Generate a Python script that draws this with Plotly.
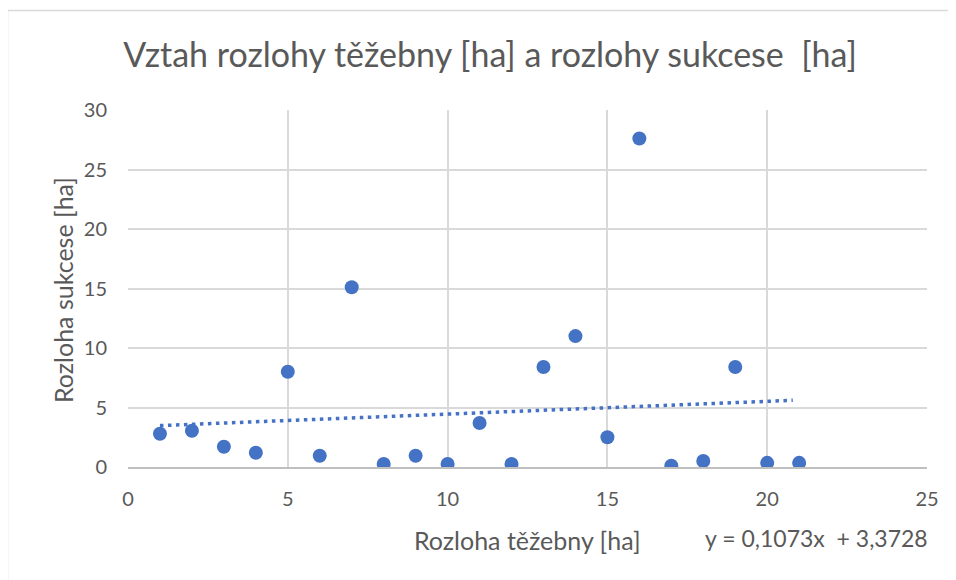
import plotly.graph_objects as go

# Data
x_vals = [1, 2, 3, 4, 5, 6, 7, 8, 9, 10, 11, 12, 13, 14, 15, 16, 17, 18, 19, 20, 21]
y_vals = [2.8, 3.05, 1.7, 1.2, 8.0, 0.95, 15.1, 0.25, 0.95, 0.25, 3.7, 0.25,
          8.4, 11.0, 2.5, 27.6, 0.1, 0.5, 8.4, 0.35, 0.35]
trend_slope = 0.1073
trend_intercept = 3.3728
trend_x = [1, 20.8]
trend_y = [trend_slope * v + trend_intercept for v in trend_x]

title_text = "Vztah rozlohy těžebny [ha] a rozlohy sukcese  [ha]"
x_title = "Rozloha těžebny [ha]"
y_title = "Rozloha sukcese [ha]"
eq_text = "y = 0,1073x  + 3,3728"

blue = "#4472C4"
grid = "#D9D9D9"
txt = "#595959"
font_family = "Lato, 'Open Sans', sans-serif"

fig = go.Figure()
fig.add_trace(go.Scatter(
    x=trend_x, y=trend_y, mode="lines",
    line=dict(color=blue, width=3.5, dash="3.5px,4.5px"),
    showlegend=False, hoverinfo="skip"))
fig.add_trace(go.Scatter(
    x=x_vals, y=y_vals, mode="markers",
    marker=dict(color=blue, size=14),
    showlegend=False))

OFF = 8  # page body margin
W, H = 956 - OFF, 580 - OFF
L, T = 128 - OFF, 110 - OFF
R = W - (927 - OFF)
B = H - (467 - OFF)
pw, ph = W - L - R, H - T - B

def px_x(p):
    return (p - OFF - L) / pw

def px_y(p):
    return (H - B - (p - OFF)) / ph

fig.update_layout(
    width=W, height=H,
    margin=dict(l=L, r=R, t=T, b=B),
    paper_bgcolor="white", plot_bgcolor="white",
    font=dict(family=font_family, color=txt, size=20),
    title=dict(text=title_text, x=px_x(490), xanchor="center", xref="paper",
               y=1 - (55 - OFF) / H, yanchor="middle",
               font=dict(size=34, color=txt, family=font_family)),
    xaxis=dict(range=[0, 25], dtick=5, showgrid=True, gridcolor=grid, gridwidth=1.5,
               zeroline=False, showline=True, linecolor="#BFBFBF", linewidth=1.5,
               ticks="", ticklabelstandoff=13, tickfont=dict(size=20, color=txt)),
    yaxis=dict(range=[0, 30], dtick=5, showgrid=True, gridcolor=grid, gridwidth=1.5,
               zeroline=False, showline=False,
               ticks="", ticklabelstandoff=20, tickfont=dict(size=20, color=txt)),
    annotations=[
        dict(text=x_title, xref="paper", yref="paper",
             x=px_x(527), y=px_y(540), xanchor="center", yanchor="middle",
             showarrow=False, font=dict(size=25, color=txt)),
        dict(text=y_title, xref="paper", yref="paper", textangle=-90,
             x=px_x(63), y=px_y(290), xanchor="center", yanchor="middle",
             showarrow=False, font=dict(size=25, color=txt)),
        dict(text=eq_text, xref="paper", yref="paper",
             x=px_x(816), y=px_y(538), xanchor="center", yanchor="middle",
             showarrow=False, font=dict(size=23, color=txt)),
    ],
    shapes=[
        dict(type="line", xref="paper", yref="paper",
             x0=px_x(7.5), x1=px_x(7.5), y0=px_y(10), y1=px_y(590),
             line=dict(color="#D9D9D9", width=1.5)),
        dict(type="line", xref="paper", yref="paper",
             x0=px_x(7.5), x1=px_x(960), y0=px_y(10.5), y1=px_y(10.5),
             line=dict(color="#D9D9D9", width=1.5)),
    ],
)

fig.write_html("out.html")
